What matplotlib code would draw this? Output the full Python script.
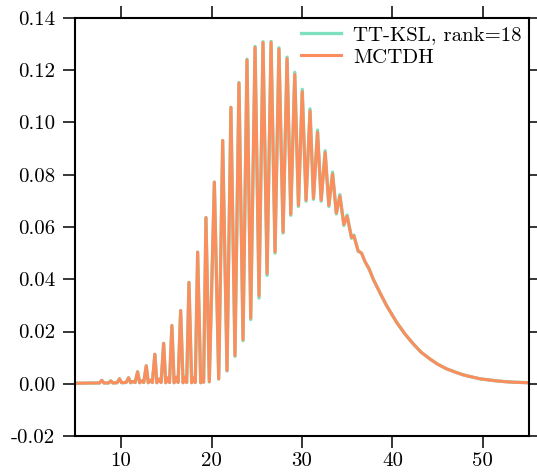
from matplotlib import pyplot as pp
from matplotlib import rc

rc('font', **{'family': 'serif', 'serif': ['cmr10'], 'size': 15})
rc('axes', **{'unicode_minus': False, 'linewidth': 1.5})

# time axis and population
time = [4.9, 7.0, 7.6, 7.86, 8.1, 8.6, 8.86, 9.1, 9.55, 9.82, 10.05,
        10.55, 10.82, 11.05, 11.3, 11.55, 11.82, 12.05, 12.3, 12.5, 12.78,
        13.0, 13.25, 13.45, 13.73, 13.95, 14.2, 14.42, 14.70, 14.93, 15.15,
        15.35, 15.61, 15.86, 16.1, 16.3, 16.58, 16.85, 17.05, 17.25, 17.50,
        17.80, 18.0, 18.2, 18.46, 18.80, 19.0, 19.12, 19.38, 19.75, 20.31,
        20.79, 21.23, 21.71, 22.14, 22.59, 23.03, 23.48, 23.92, 24.33, 24.81,
        25.25, 25.69, 26.14, 26.58, 27.02, 27.45, 27.91, 28.35, 28.76, 29.20,
        29.61, 30.03, 30.45, 30.89, 31.27, 31.72, 32.12, 32.56, 32.97, 33.38,
        33.80, 34.19, 34.63, 34.99, 35.48, 35.74, 36.21, 36.59, 36.95, 37.43,
        37.87, 38.6, 39.36, 40.47, 41.4, 42.30, 43.2, 44.15, 45.0, 46.0,
        47.0, 47.84, 48.8, 49.69, 50.6, 51.54, 52.5, 53.38, 55.1]

mctdh = [0.0002, 0.0003, 0.0003, 0.0013, 0.0003, 0.0003, 0.0011, 0.0003, 0.0004, 0.0019, 0.0004,
         0.0005, 0.0023, 0.0004, 0.0009, 0.0005, 0.0046, 0.0004, 0.0011, 0.0005, 0.0069,
         0.0004, 0.0014, 0.0005, 0.0113, 0.0004, 0.0018, 0.0005, 0.0155, 0.0004, 0.0022,
         0.0005, 0.0223, 0.0004, 0.0025, 0.0005, 0.0280, 0.0004, 0.0025, 0.0005, 0.0388,
         0.0004, 0.0022, 0.0005, 0.0504, 0.0004, 0.0015, 0.0006, 0.0636, 0.0008, 0.0772,
         0.0019, 0.0931, 0.0051, 0.1058, 0.0108, 0.1151, 0.0169, 0.1239, 0.0251, 0.1287,
         0.0337, 0.1306, 0.0422, 0.1307, 0.0505, 0.1281, 0.0581, 0.1244, 0.0649, 0.1184,
         0.0683, 0.1118, 0.0703, 0.1044, 0.0710, 0.0963, 0.0703, 0.0885, 0.0683, 0.0803,
         0.0654, 0.0718, 0.0610, 0.0641, 0.0560, 0.0566, 0.0509, 0.0500, 0.0469, 0.0439,
         0.0401, 0.0350, 0.0299, 0.0235, 0.0190, 0.0153, 0.0120, 0.0095, 0.0075, 0.0057,
         0.0044, 0.0034, 0.0026, 0.0019, 0.0015, 0.0011, 0.0008, 0.0006, 0.0004]

ttksl = [0.0002, 0.0003, 0.0003, 0.0013, 0.0003, 0.0003, 0.0011, 0.0003, 0.0004, 0.0019, 0.0004,
         0.0005, 0.0023, 0.0004, 0.0009, 0.0005, 0.0046, 0.0004, 0.0011, 0.0005, 0.0069,
         0.0004, 0.0014, 0.0005, 0.0113, 0.0004, 0.0018, 0.0005, 0.0155, 0.0004, 0.0022,
         0.0005, 0.0223, 0.0004, 0.0025, 0.0005, 0.0280, 0.0004, 0.0025, 0.0005, 0.0388,
         0.0004, 0.0022, 0.0005, 0.0504, 0.0004, 0.0015, 0.0006, 0.0636, 0.0007, 0.0772,
         0.0018, 0.0931, 0.0049, 0.1058, 0.0105, 0.1153, 0.0165, 0.1242, 0.0246, 0.1291,
         0.0328, 0.1309, 0.0415, 0.1310, 0.0500, 0.1286, 0.0577, 0.1250, 0.0645, 0.1192,
         0.0679, 0.1127, 0.0699, 0.1052, 0.0706, 0.0971, 0.0699, 0.0892, 0.0679, 0.0810,
         0.0650, 0.0724, 0.0606, 0.0646, 0.0557, 0.0569, 0.0507, 0.0500, 0.0469, 0.0439,
         0.0401, 0.0350, 0.0299, 0.0235, 0.0190, 0.0153, 0.0120, 0.0095, 0.0075, 0.0057,
         0.0044, 0.0034, 0.0026, 0.0019, 0.0015, 0.0011, 0.0008, 0.0006, 0.0004]

yticks = [-0.02, 0.00, 0.02, 0.04, 0.06, 0.08, 0.10, 0.12, 0.14]
ytickLabels = ["-0.02", "0.00", "0.02", "0.04", "0.06", "0.08", "0.10", "0.12", "0.14"]
xticks = [10, 20, 30, 40, 50]

fig = pp.figure(figsize=(5.37, 4.72), dpi=100)
ax = fig.add_axes([0.1397, 0.0762, 0.8453, 0.8857])

ax.plot(time, ttksl, color='#7fdfc1', linewidth=2.4, label='TT-KSL, rank=18')
ax.plot(time, mctdh, color='#fc8d5c', linewidth=2.2, label='MCTDH')

ax.set_xlim([4.9, 55.1])
ax.set_ylim([-0.02, 0.14])
ax.set_xticks(xticks)
ax.set_yticks(yticks)
ax.set_yticklabels(ytickLabels)

ax.tick_params(direction='out', length=8.5, width=1.1, top=True, right=True,
               labeltop=False, labelright=False)
ax.tick_params(axis='y', pad=6)
ax.tick_params(axis='x', pad=3)

ax.legend(loc='upper right', bbox_to_anchor=(1.0, 1.0), frameon=False,
          borderaxespad=0.0, borderpad=0.35, handlelength=1.9, handletextpad=0.6,
          labelspacing=0.2)

pp.savefig('out.png', dpi=100)
